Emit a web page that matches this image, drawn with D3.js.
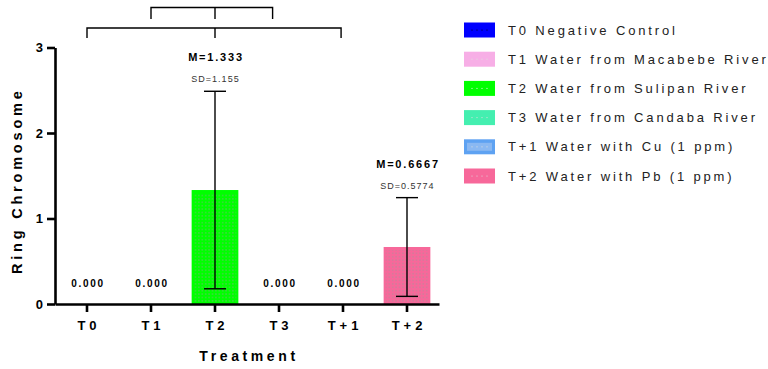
<!DOCTYPE html>
<html>
<head>
<meta charset="utf-8">
<script src="https://cdn.jsdelivr.net/npm/d3@7"></script>
<style>
  html, body { margin: 0; padding: 0; background: #fff; }
  svg { display: block; font-family: "Liberation Sans", Arial, sans-serif; }
</style>
</head>
<body>
<svg id="chart" width="768" height="369"></svg>
<script>
// Treatment groups, means and standard deviations
const categories = ["T0", "T1", "T2", "T3", "T+1", "T+2"];
const tickLabels = ["T0", "T1", "T2", "T3", "T+1", "T+2"];
const means = [0, 0, 1.333, 0, 0, 0.6667];
const sds = [0, 0, 1.155, 0, 0, 0.5774];
const meanLabels = ["0.000", "0.000", "M=1.333", "0.000", "0.000", "M=0.6667"];
const sdLabels = ["", "", "SD=1.155", "", "", "SD=0.5774"];
const legendLabels = [
  "T0 Negative Control",
  "T1 Water from Macabebe River",
  "T2 Water from Sulipan River",
  "T3 Water from Candaba River",
  "T+1 Water with Cu (1 ppm)",
  "T+2 Water with Pb (1 ppm)"
];
const colors = ["#0000ff", "#f7aee6", "#00ff00", "#44efb0", "#5ea2f2", "#f7689a"];
const yTicks = [0, 1, 2, 3];
// Comparison brackets, in category-index units
const brackets = [
  { from: 1, mid: 2, to: 2.9, level: 0 },
  { from: 0, mid: 2, to: 3.97, level: 1 }
];

const svg = d3.select("#chart");
const plotLeft = 55, plotRight = 439, plotBottom = 304, plotTop = 47.5;

const x = d3.scaleBand().domain(categories).range([plotLeft, plotRight])
  .paddingInner(0.27).paddingOuter(0.135);
const y = d3.scaleLinear().domain([0, 3]).range([plotBottom, plotTop]);
const cx = c => x(c) + x.bandwidth() / 2;
const xi = d3.scaleLinear().domain([0, categories.length - 1])
  .range([cx(categories[0]), cx(categories[categories.length - 1])]);

// Dot texture laid over the bar fills
const defs = svg.append("defs");
const pat = defs.append("pattern").attr("id", "dots")
  .attr("patternUnits", "userSpaceOnUse").attr("width", 3.4).attr("height", 3.4);
pat.append("circle").attr("cx", 1.7).attr("cy", 1.7).attr("r", 0.55).attr("fill", "#9a9a9a");

// Bars
const bars = svg.append("g");
categories.forEach((c, i) => {
  const h = plotBottom - y(means[i]);
  if (h <= 0) return;
  bars.append("rect").attr("x", x(c)).attr("y", y(means[i]))
    .attr("width", x.bandwidth()).attr("height", h).attr("fill", colors[i]);
  bars.append("rect").attr("x", x(c) + 2).attr("y", y(means[i]) + 3)
    .attr("width", x.bandwidth() - 4).attr("height", Math.max(0, h - 4))
    .attr("fill", "url(#dots)");
});

// Error bars (mean ± SD)
const err = svg.append("g").attr("stroke", "#000").attr("stroke-width", 1.4);
categories.forEach((c, i) => {
  if (!sds[i]) return;
  const px = cx(c), y1 = y(means[i] + sds[i]), y0 = y(means[i] - sds[i]);
  err.append("line").attr("x1", px).attr("x2", px).attr("y1", y1).attr("y2", y0);
  err.append("line").attr("x1", px - 11).attr("x2", px + 11).attr("y1", y1).attr("y2", y1);
  err.append("line").attr("x1", px - 11).attr("x2", px + 11).attr("y1", y0).attr("y2", y0);
});

// Axes
const yAxis = svg.append("g").attr("transform", `translate(${plotLeft},0)`)
  .call(d3.axisLeft(y).tickValues(yTicks).tickFormat(d3.format("d")).tickSizeOuter(0).tickSizeInner(8).tickPadding(4));
const xAxis = svg.append("g").attr("transform", `translate(0,${plotBottom})`)
  .call(d3.axisBottom(x).tickFormat((d, i) => tickLabels[i]).tickSizeOuter(0).tickSizeInner(8).tickPadding(9));
[yAxis, xAxis].forEach(g => {
  g.select(".domain").attr("stroke", "#000").attr("stroke-width", 2.6);
  g.selectAll(".tick line").attr("stroke", "#000").attr("stroke-width", 2.6);
  g.selectAll("text").attr("fill", "#000").attr("font-weight", "bold")
    .attr("font-family", "'Liberation Sans', Arial, sans-serif");
});
yAxis.selectAll("text").attr("font-size", 13);
xAxis.selectAll("text").attr("font-size", 13).attr("letter-spacing", 4).attr("dx", 2);

// Axis titles
svg.append("text").attr("x", (plotLeft + plotRight) / 2 + 2).attr("y", 361)
  .attr("text-anchor", "middle").attr("font-size", 14).attr("font-weight", "bold")
  .attr("letter-spacing", 3.6).text("Treatment");
svg.append("text").attr("transform", `translate(22,${(plotTop + plotBottom) / 2 + 5}) rotate(-90)`)
  .attr("text-anchor", "middle").attr("font-size", 14.5).attr("font-weight", "bold")
  .attr("letter-spacing", 3.8).text("Ring Chromosome");

// Value labels
categories.forEach((c, i) => {
  if (means[i] === 0) {
    svg.append("text").attr("x", cx(c) + 1).attr("y", 287)
      .attr("text-anchor", "middle").attr("font-size", 10).attr("font-weight", "bold")
      .attr("letter-spacing", 1.7).text(meanLabels[i]);
  } else {
    const topY = y(means[i] + sds[i]);
    svg.append("text").attr("x", cx(c) + 1).attr("y", topY - 30)
      .attr("text-anchor", "middle").attr("font-size", 11).attr("font-weight", "bold")
      .attr("letter-spacing", 1.8).text(meanLabels[i]);
    svg.append("text").attr("x", cx(c) + 0.5).attr("y", topY - 9)
      .attr("text-anchor", "middle").attr("font-size", 9).attr("fill", "#333")
      .attr("letter-spacing", 1).text(sdLabels[i]);
  }
});

// Comparison brackets above the plot
const br = svg.append("g").attr("stroke", "#000").attr("stroke-width", 1.4).attr("fill", "none");
brackets.forEach(b => {
  const yl = 7.5 + b.level * 20.5, yd = yl + 11.5 - b.level * 1.5;
  br.append("path").attr("d",
    `M${xi(b.from)},${yd}V${yl}H${xi(b.to)}V${yd}M${xi(b.mid)},${yl}V${yd}`);
});

// Legend
const lg = svg.append("g");
legendLabels.forEach((t, i) => {
  const yc = 30 + i * 29.2;
  lg.append("rect").attr("x", 464).attr("y", yc - 7.5).attr("width", 31).attr("height", 15)
    .attr("fill", colors[i]);
  if (i === 4) {
    lg.append("rect").attr("x", 467).attr("y", yc - 4).attr("width", 25).attr("height", 8)
      .attr("fill", "#8ab8f2");
  }
  for (let k = 0; k < 4; k++) {
    lg.append("circle").attr("cx", 472 + k * 5).attr("cy", yc).attr("r", 0.6)
      .attr("fill", i === 0 ? "#000" : "#ddd");
  }
  lg.append("text").attr("x", 508).attr("y", yc + 4.6).attr("font-size", 13)
    .attr("fill", "#222").attr("letter-spacing", 2.85).text(t);
});
</script>
</body>
</html>
